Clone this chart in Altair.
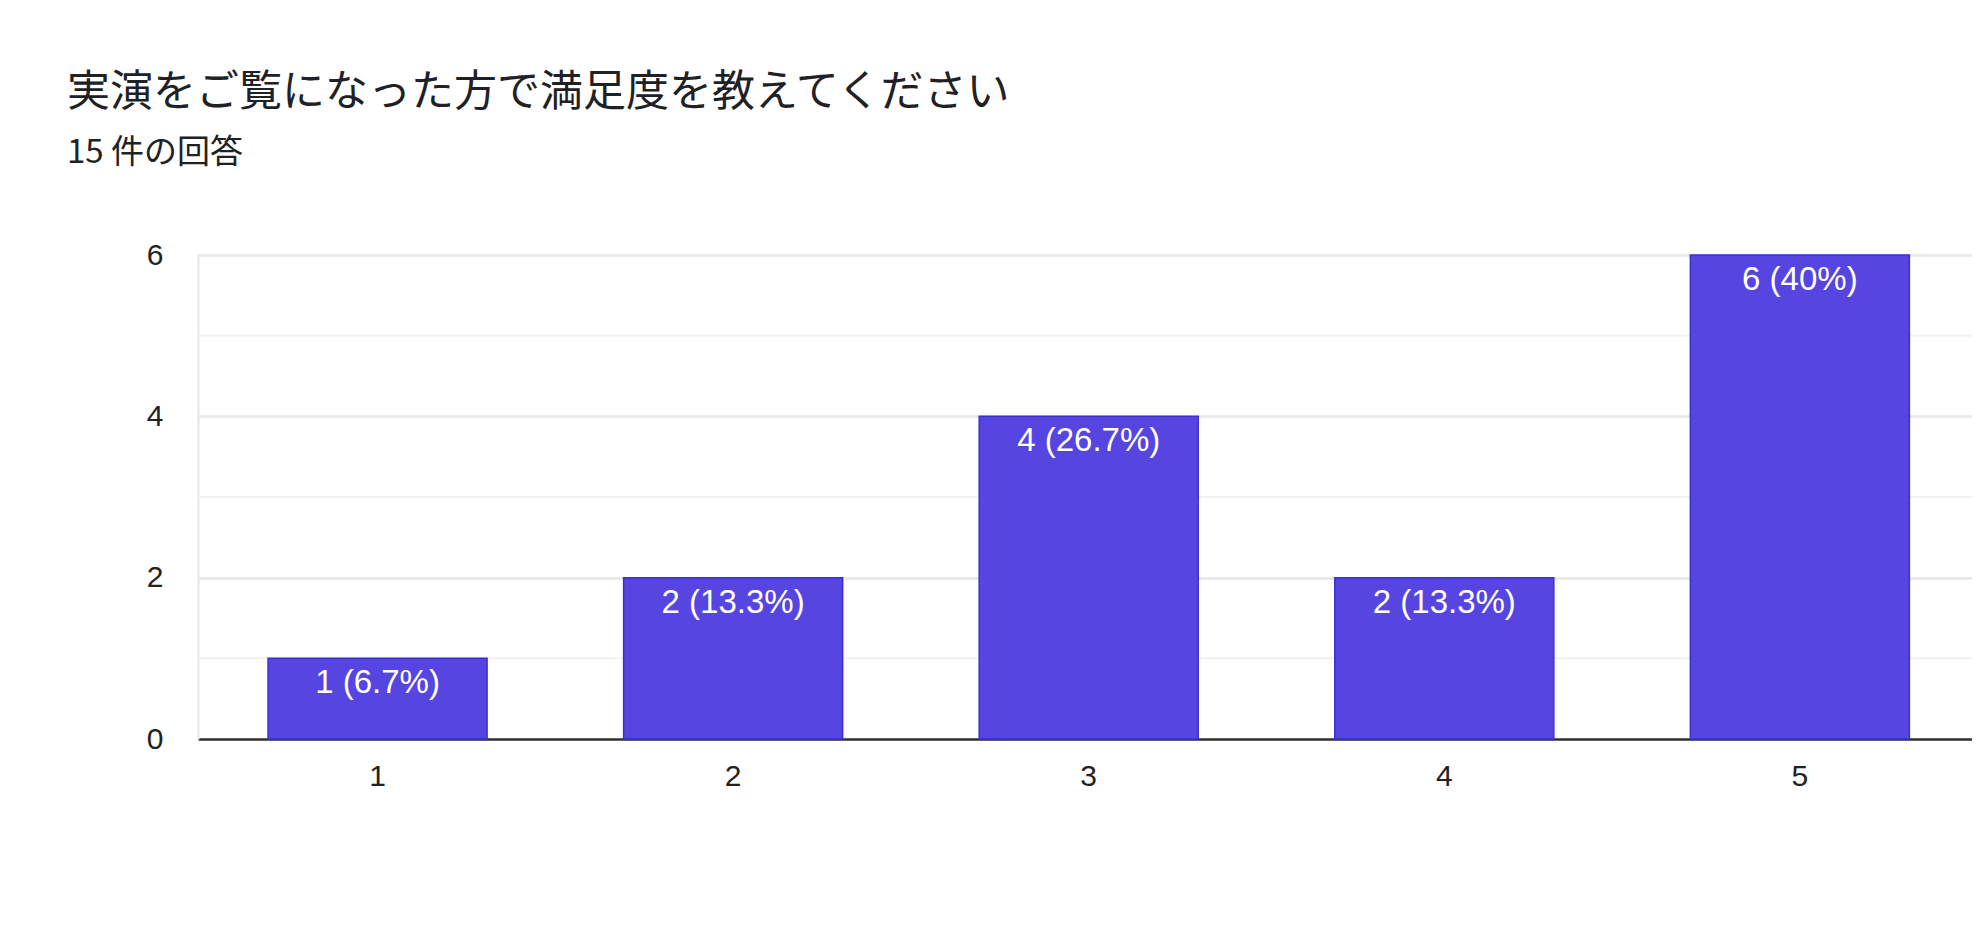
import altair as alt
import pandas as pd

categories = ["1", "2", "3", "4", "5"]
counts = [1, 2, 4, 2, 6]
labels = ["1 (6.7%)", "2 (13.3%)", "4 (26.7%)", "2 (13.3%)", "6 (40%)"]
minor_grid = [1, 3, 5]

df = pd.DataFrame({"cat": categories, "count": counts, "label": labels})
minor_df = pd.DataFrame({"v": minor_grid})

FONT = "Liberation Sans, Arial, Noto Sans CJK JP"
JP = "Noto Sans CJK JP"

xscale = alt.Scale(paddingInner=0.384, paddingOuter=0.1865, align=0.528)
yscale = alt.Scale(domain=[0, 6], nice=False)

base = alt.Chart(df)

minor = alt.Chart(minor_df).mark_rule(color="#f2f2f2", strokeWidth=2).encode(
    y=alt.Y("v:Q", scale=yscale)
)

bars = base.mark_bar(color="#5745e1", stroke="#3b2fd4", strokeWidth=1.5).encode(
    x=alt.X("cat:N", sort=categories, scale=xscale,
            axis=alt.Axis(title=None, labelAngle=0, labelFontSize=30, labelFont=FONT,
                          labelColor="#222222", ticks=False, labelPadding=22,
                          labelBaseline="top",
                          domainColor="#333333", domainWidth=2.5, grid=False)),
    y=alt.Y("count:Q", scale=yscale,
            axis=alt.Axis(title=None, values=[0, 2, 4, 6], format="d",
                          labelFontSize=30, labelFont=FONT,
                          labelColor="#222222", ticks=False, labelPadding=35,
                          domainColor="#e6e6e6", domainWidth=2,
                          gridColor="#e6e6e6", gridWidth=2.5)),
)

text = base.mark_text(color="white", fontSize=33, font=FONT, baseline="middle", dy=25).encode(
    x=alt.X("cat:N", sort=categories, scale=xscale),
    y=alt.Y("count:Q", scale=yscale),
    text="label:N",
)

chart = alt.layer(minor, bars, text).properties(
    width=1774,
    height=484,
    title=alt.TitleParams(
        text="実演をご覧になった方で満足度を教えてください",
        subtitle="15 件の回答",
        anchor="start",
        frame="group",
        font=JP,
        fontSize=43,
        fontWeight="normal",
        color="#202124",
        subtitleFont=JP,
        subtitleFontSize=33,
        subtitleColor="#202124",
        subtitlePadding=22,
        dx=-131,
        offset=70,
    ),
    padding={"left": 190, "top": 247, "right": 0, "bottom": 100},
    autosize=alt.AutoSizeParams(type="none"),
).configure_view(stroke=None).configure(background="white")

chart.save("out.html", embed_options={"renderer": "svg", "actions": False})
